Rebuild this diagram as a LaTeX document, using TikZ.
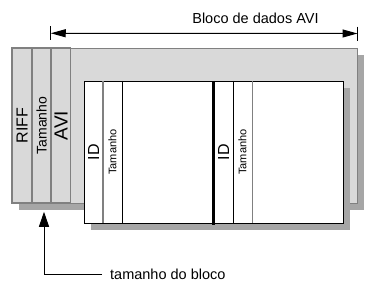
\documentclass[tikz,border=0pt]{standalone}
\usepackage{fontspec}
\setmainfont{Liberation Sans}
\usetikzlibrary{arrows.meta,shadows}

\definecolor{chunkGray}{HTML}{D9D9D9}
\definecolor{shadowGray}{HTML}{A6A6A6}
\definecolor{lineGray}{HTML}{808080}

\tikzset{>={Triangle[length=15pt,width=8pt]}}
\tikzstyle{chunk} = [rectangle, draw=lineGray, fill=chunkGray, line width=1pt, inner sep=0pt,
  drop shadow={shadow xshift=7pt, shadow yshift=-7pt, fill=shadowGray, opacity=1}]
\tikzstyle{dataChunk} = [rectangle, draw=black, fill=white, line width=1pt, inner sep=0pt,
  drop shadow={shadow xshift=7pt, shadow yshift=-7pt, fill=shadowGray, opacity=1}]
\tikzstyle{headCol} = [rectangle, draw=lineGray, fill=chunkGray, line width=1.5pt, inner sep=0pt,
  minimum width=19pt, minimum height=155pt, node distance=19.5pt]
\tikzstyle{fieldCol} = [rectangle, inner sep=0pt, minimum width=19pt, minimum height=142pt]
\tikzstyle{note} = [inner sep=0pt, font=\fontsize{14.5}{17}\selectfont]
\tikzstyle{divGray} = [draw=lineGray, line width=2pt]
\tikzstyle{divBlack} = [draw=black, line width=1pt]

\begin{document}
\begin{tikzpicture}[x=1pt,y=-1pt]

   \useasboundingbox (0,0) rectangle (375,290);

   % RIFF chunk with its header fields
   \node[chunk, minimum width=345pt, minimum height=155pt] (riffChunk) at (184.5,125.5) {};

   \node[headCol, minimum width=20pt] (riffCol) at (22,125.5) {\rotatebox{90}{\fontsize{16}{18}\selectfont RIFF}};
   \node[headCol] (sizeCol) [right of = riffCol] {\rotatebox{90}{\fontsize{14}{16}\selectfont Tamanho}};
   \node[headCol] (aviCol) [right of = sizeCol] {\rotatebox{90}{\fontsize{19}{21}\selectfont AVI}};


   % AVI data chunk
   \node[dataChunk, minimum width=259pt, minimum height=142pt] (aviData) at (213.5,152) {};

   % first sub-chunk: ID and size
   \node[fieldCol] (idCol) at (93.5,152) {\rotatebox{90}{\fontsize{16}{18}\selectfont ID}};
   \node[fieldCol] (lenCol) [right of = idCol, node distance = 19pt] {\rotatebox{90}{\fontsize{11}{13}\selectfont Tamanho}};

   % second sub-chunk: ID and size
   \node[fieldCol] (idColB) at (223.5,152) {\rotatebox{90}{\fontsize{16}{18}\selectfont ID}};
   \node[fieldCol] (lenColB) [right of = idColB, node distance = 19pt] {\rotatebox{90}{\fontsize{11}{13}\selectfont Tamanho}};

   %% Dividers

   \path[divGray]  (idCol.north east) -- (idCol.south east);
   \path[divBlack] (lenCol.north east) -- (lenCol.south east);

   \draw[line width=3pt] (idColB.north west) -- ([yshift=-2pt]idColB.south west);
   \path[divBlack] (idColB.north east) -- (idColB.south east);
   \path[divGray, line width=1pt] (lenColB.north east) -- (lenColB.south east);


   %% Span of the AVI data

   \coordinate (spanL) at ([yshift=14pt]aviCol.north west);
   \coordinate (spanR) at ([yshift=14pt]riffChunk.north east);

   \draw[<->, line width=1pt] (spanL) -- (spanR);
   \draw[line width=1pt] (spanL) ++(0,-7) -- ++(0,14);
   \draw[line width=1pt] (spanR) ++(0,-7) -- ++(0,14);

   \node[note] (spanLabel) at (255.5,18) {Bloco de dados AVI};


   %% Size field pointer

   \node[note, anchor=west] (sizeNote) at (110,274) {tamanho do bloco};
   \coordinate (sizeTip) at ([xshift=2.5pt, yshift=-8pt]sizeCol.south);

   \draw[-{Triangle[length=15pt,width=10pt]}, line width=1pt] ([xshift=-8pt]sizeNote.west) -| (sizeTip);

\end{tikzpicture}
\end{document}
